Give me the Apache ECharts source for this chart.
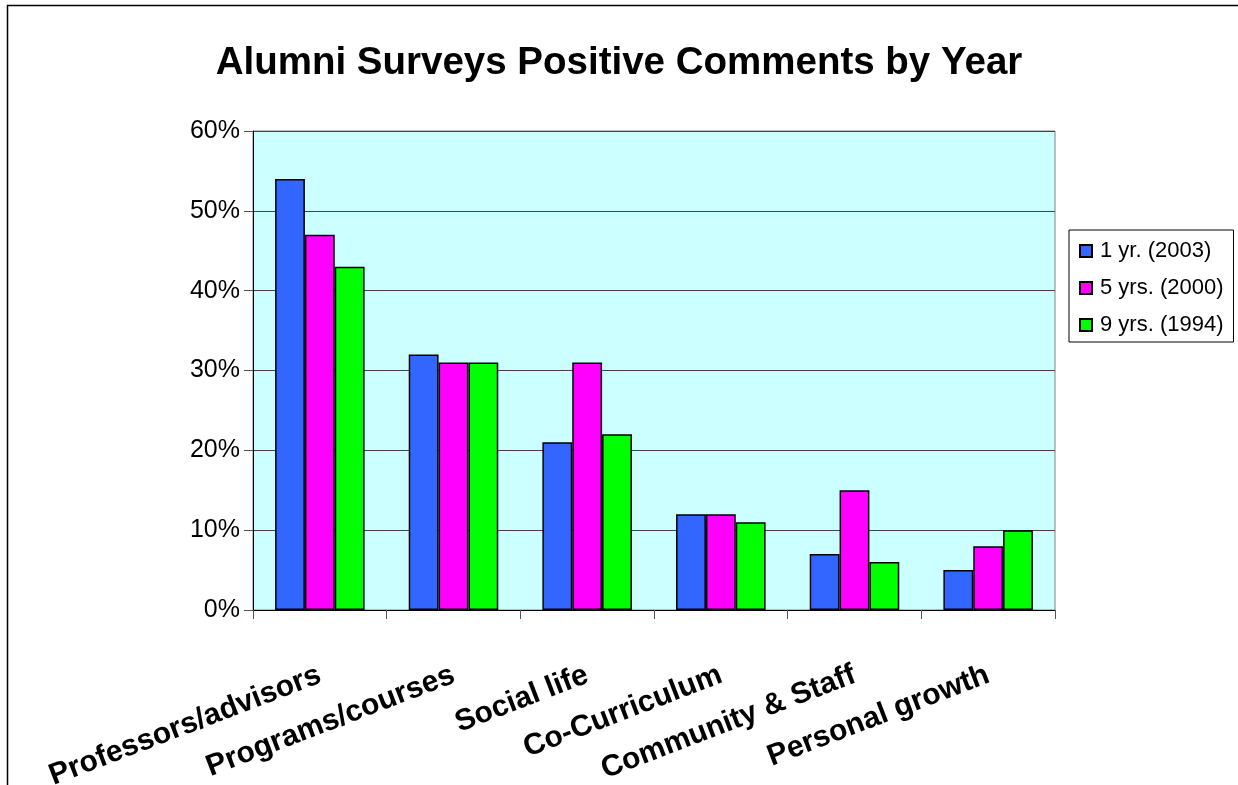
<!DOCTYPE html>
<html>
<head>
<meta charset="utf-8">
<script src="https://cdn.jsdelivr.net/npm/echarts@6/dist/echarts.min.js"></script>
<style>
html,body{margin:0;padding:0;background:#fff;}
#chart{width:1238px;height:785px;}
</style>
</head>
<body>
<div id="chart"></div>
<script>
const categories = ['Professors/advisors','Programs/courses','Social life','Co-Curriculum','Community & Staff','Personal growth'];
const seriesNames = ['1 yr. (2003)','5 yrs. (2000)','9 yrs. (1994)'];
const yr1_2003 = [54, 32, 21, 12, 7, 5];
const yrs5_2000 = [47, 31, 31, 12, 15, 8];
const yrs9_1994 = [43, 31, 22, 11, 6, 10];
const seriesColors = ['#3366FF', '#FF00FF', '#00FF00'];
const yTicks = {min: 0, max: 60, interval: 10};

const FONT = '"Liberation Sans", Arial, sans-serif';
const chart = echarts.init(document.getElementById('chart'), null, {renderer: 'canvas'});
const values = [yr1_2003, yrs5_2000, yrs9_1994];

chart.setOption({
  animation: false,
  backgroundColor: '#ffffff',
  title: {
    text: 'Alumni Surveys Positive Comments by Year',
    left: 'center',
    top: 39,
    textStyle: {fontFamily: FONT, fontSize: 38.5, fontWeight: 'bold', color: '#000'}
  },
  graphic: [{
    type: 'rect', silent: true, z: -1,
    shape: {x: 7.5, y: 5.5, width: 1300, height: 900},
    style: {fill: 'none', stroke: '#000', lineWidth: 1.5}
  }],
  legend: {
    orient: 'vertical',
    left: 1069, top: 230,
    padding: [10, 10, 6, 10],
    itemGap: 15,
    itemWidth: 12, itemHeight: 12,
    icon: 'rect',
    borderColor: '#000', borderWidth: 1,
    backgroundColor: '#fff',
    textStyle: {fontFamily: FONT, fontSize: 22, color: '#000', padding: [0, 0, 0, 3]},
    data: seriesNames
  },
  grid: {
    left: 253, right: 183, top: 131, bottom: 175,
    containLabel: false,
    outerBoundsMode: 'none',
    show: true, backgroundColor: '#CCFFFF', borderColor: '#808080', borderWidth: 1
  },
  xAxis: {
    type: 'category',
    data: categories,
    axisLine: {lineStyle: {color: '#000', width: 1}},
    axisTick: {show: true, length: 9, lineStyle: {color: '#555'}},
    axisLabel: {
      rotate: 21, margin: 64, interval: 0,
      fontFamily: FONT, fontSize: 30, fontWeight: 'bold', color: '#000'
    }
  },
  yAxis: {
    type: 'value',
    min: yTicks.min, max: yTicks.max, interval: yTicks.interval,
    axisLine: {show: true, lineStyle: {color: '#000', width: 1}},
    axisTick: {show: true, length: 9, lineStyle: {color: '#555'}},
    axisLabel: {formatter: '{value}%', fontFamily: FONT, fontSize: 25, color: '#000', margin: 13},
    splitLine: {show: true, lineStyle: {color: '#444', width: 1}}
  },
  series: seriesNames.map((name, i) => ({
    name: name,
    type: 'bar',
    data: values[i],
    barGap: '0%',
    barCategoryGap: '33%',
    itemStyle: {color: seriesColors[i], borderColor: '#000', borderWidth: 1.5}
  }))
});
</script>
</body>
</html>
